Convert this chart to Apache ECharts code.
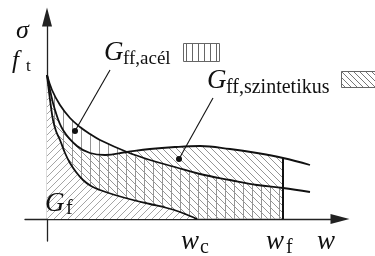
<!DOCTYPE html>
<html>
<head>
<meta charset="utf-8">
<script src="https://cdn.jsdelivr.net/npm/echarts@6/dist/echarts.min.js"></script>
<style>
    html, body { margin: 0; padding: 0; background: #fff; }
    #chart { width: 375px; height: 256px; }
</style>
</head>
<body>
<div id="chart"></div>
<script>
// crack opening w (arbitrary units) and stress sigma for the three curves
var acelW = [0, 5, 13, 23, 33, 43, 53, 80, 103, 128, 153, 183, 210, 236, 263];
var acelS = [144, 129, 114, 101, 92, 85, 79, 67, 59, 52, 45, 39, 34, 31, 27];

var szintW = [0, 3, 8, 16, 30, 43, 58, 80, 103, 128, 153, 183, 210, 236, 263];
var szintS = [144, 129, 109, 89, 73, 66, 64, 67, 70, 72, 73, 70, 66, 61, 54];

var betonW = [0, 2, 4, 6, 9, 13, 18, 23, 29, 36, 44, 53, 68, 86, 103, 120, 133, 143, 150];
var betonS = [144, 127, 112, 99, 88, 79, 66, 56, 47, 39, 33, 29, 24, 19, 15, 11, 7, 3, 0];

var wF = 236;
var wC = 150;

// leader lines: [start of line, dot]
var acelLeader = [[63, 149], [28, 88]];
var szintLeader = [[166, 121], [132, 60]];

function pairs(ws, ss) {
    return ws.map(function(w, i) { return [w, ss[i]]; });
}
function upTo(data, limit) {
    return data.filter(function(p) { return p[0] <= limit; });
}
function hatch(size, kind, color) {
    var c = document.createElement('canvas');
    c.width = size;
    c.height = size;
    var ctx = c.getContext('2d');
    ctx.strokeStyle = color;
    ctx.lineWidth = 1;
    ctx.beginPath();
    if (kind === 'v') {
        ctx.moveTo(0.5, 0); ctx.lineTo(0.5, size);
    } else if (kind === 'b') {
        ctx.moveTo(-1, -1); ctx.lineTo(size + 1, size + 1);
        ctx.moveTo(-1, size - 1); ctx.lineTo(1, size + 1);
        ctx.moveTo(size - 1, -1); ctx.lineTo(size + 1, 1);
    } else {
        ctx.moveTo(-1, size + 1); ctx.lineTo(size + 1, -1);
        ctx.moveTo(-1, 1); ctx.lineTo(1, -1);
        ctx.moveTo(size - 1, size + 1); ctx.lineTo(size + 1, size - 1);
    }
    ctx.stroke();
    return c;
}

var serif = "'Liberation Serif', 'DejaVu Serif', serif";
function txt(s, x, y, size, italic) {
    return {
        type: 'text', x: x, y: y, z: 100,
        style: {
            text: s, fill: '#111',
            font: (italic ? 'italic ' : '') + size + 'px ' + serif,
            textAlign: 'left', textVerticalAlign: 'middle', align: 'left', verticalAlign: 'middle'
        }
    };
}

var chart = echarts.init(document.getElementById('chart'));

var vPat = { image: hatch(9, 'v', '#959595'), repeat: 'repeat' };
var bPat = { image: hatch(7, 'b', '#959595'), repeat: 'repeat' };
var sPat = { image: hatch(7, 's', '#a5a5a5'), repeat: 'repeat' };
var vPatSmall = { image: hatch(6, 'v', '#666'), repeat: 'repeat' };
var bPatSmall = { image: hatch(6, 'b', '#777'), repeat: 'repeat' };

function areaSeries(data, pattern) {
    return {
        type: 'line', data: data, smooth: 0.4, symbol: 'none', silent: true,
        lineStyle: { width: 0 },
        areaStyle: { color: pattern, opacity: 1 }
    };
}
function curveSeries(data, width) {
    return {
        type: 'line', data: data, smooth: 0.4, symbol: 'none', silent: true,
        lineStyle: { color: '#111', width: width }
    };
}
function leaderSeries(line) {
    return {
        type: 'line', silent: true, showAllSymbol: true,
        data: [
            { value: line[0], symbol: 'none' },
            { value: line[1], symbol: 'circle', symbolSize: 6 }
        ],
        itemStyle: { color: '#111' },
        lineStyle: { color: '#111', width: 1.1 }
    };
}

var acel = pairs(acelW, acelS);
var szint = pairs(szintW, szintS);
var beton = pairs(betonW, betonS);

var option = {
    backgroundColor: '#fff',
    animation: false,
    grid: { left: 25, right: 35, top: 17, bottom: 15 },
    xAxis: {
        type: 'value', min: -22, max: 293,
        axisLine: {
            show: true, onZero: true,
            symbol: ['none', 'triangle'], symbolSize: [10, 19],
            lineStyle: { color: '#222', width: 1.3 }
        },
        axisTick: { show: false },
        axisLabel: { show: false },
        splitLine: { show: false }
    },
    yAxis: {
        type: 'value', min: -22, max: 202,
        axisLine: {
            show: true, onZero: true,
            symbol: ['none', 'triangle'], symbolSize: [10, 19],
            lineStyle: { color: '#222', width: 1.3 }
        },
        axisTick: { show: false },
        axisLabel: { show: false },
        splitLine: { show: false }
    },
    series: [
        areaSeries(upTo(acel, wF), vPat),
        areaSeries(upTo(szint, wF), bPat),
        areaSeries(beton, '#fff'),
        areaSeries(beton, sPat),
        curveSeries(acel, 1.8),
        curveSeries(szint, 1.8),
        curveSeries(beton, 1.8),
        {
            type: 'line', data: [[wF, 0], [wF, szintS[szintW.indexOf(wF)]]],
            symbol: 'none', silent: true,
            lineStyle: { color: '#111', width: 2 }
        },
        leaderSeries(acelLeader),
        leaderSeries(szintLeader)
    ],
    graphic: [
        txt('σ', 16, 31, 26, true),
        txt('f', 12, 61, 25, true),
        txt('t', 26, 67, 17, false),
        txt('G', 104, 53, 27, true),
        txt('ff,acél', 123, 59, 19, false),
        {
            type: 'rect', z: 100,
            shape: { x: 183.5, y: 43.5, width: 36, height: 18 },
            style: { fill: vPatSmall, stroke: '#666', lineWidth: 1 }
        },
        txt('G', 207, 81, 27, true),
        txt('ff,szintetikus', 226, 88, 20, false),
        {
            type: 'rect', z: 100,
            shape: { x: 341.5, y: 71.5, width: 40, height: 16 },
            style: { fill: bPatSmall, stroke: '#666', lineWidth: 1 }
        },
        txt('G', 45, 204, 27, true),
        txt('f', 66, 209, 20, false),
        txt('w', 181, 242, 27, true),
        txt('c', 200, 248, 20, false),
        txt('w', 266, 242, 27, true),
        txt('f', 286, 248, 20, false),
        txt('w', 317, 242, 27, true)
    ]
};
chart.setOption(option);
</script>
</body>
</html>
